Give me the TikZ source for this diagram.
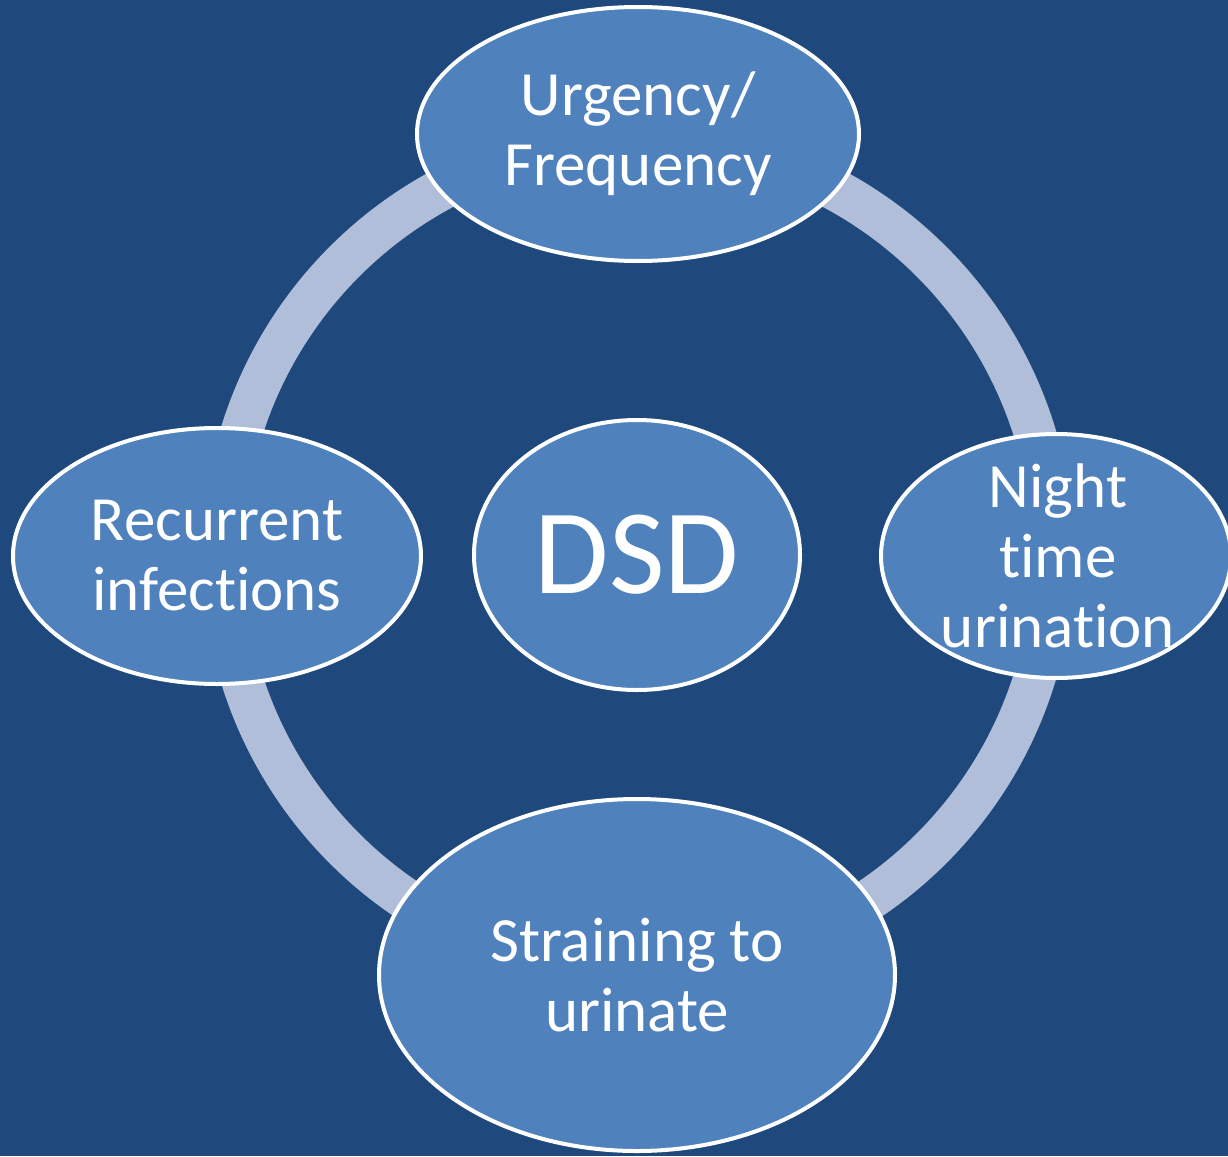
\documentclass[tikz,border=0pt]{standalone}
\usepackage{fontspec}
\setmainfont{Carlito}[Ligatures=NoCommon]
\usetikzlibrary{shapes.geometric}
\definecolor{bg}{HTML}{1F497D}
\definecolor{ell}{HTML}{4F81BD}
\definecolor{ringc}{HTML}{B0BED9}
\begin{document}
\begin{tikzpicture}[x=1pt,y=-1pt,
  bub/.style={ellipse, draw=white, line width=4pt, fill=ell, inner sep=0pt},
  txt/.style={text=white, align=center, inner sep=0pt, font=\fontsize{63}{70}\selectfont}]
\fill[bg] (0,0) rectangle (1228,1156);
\useasboundingbox (0,0) rectangle (1228,1156);
\coordinate (c) at (638,555);
\draw[ringc, line width=42pt] (c) circle[radius=415];
\node[bub, minimum width=442, minimum height=254] (urg) at (638,134) {};
\node[bub, minimum width=408, minimum height=256] (rec) at (217,556) {};
\node[bub, minimum width=350, minimum height=244] (night) at (1056,556) {};
\node[bub, minimum width=516, minimum height=352] (strain) at (637,975) {};
\node[bub, minimum width=326, minimum height=270] (dsd) at (637,555) {};
\node[txt] (urgt) at (urg) {Urgency/\\Frequency};
\node[txt] (rect) at (rec) {Recurrent\\infections};
\node[txt] (nightt) at ([xshift=2pt]night) {Night\\time\\urination};
\node[txt] (straint) at (strain) {Straining to\\urinate};
\node[txt, font=\fontsize{121}{140}\selectfont] (dsdt) at (dsd) {DSD};
\end{tikzpicture}
\end{document}
